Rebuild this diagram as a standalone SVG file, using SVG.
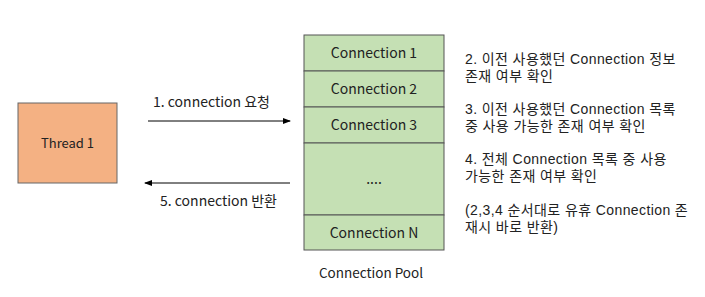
<svg xmlns="http://www.w3.org/2000/svg" width="705" height="297" viewBox="0 0 705 297">
<style>
text{font-family:"Noto Sans CJK KR","Noto Sans",sans-serif;font-size:14px;fill:#222}
.c{text-anchor:middle}
.note{font-family:"Liberation Sans","Noto Sans CJK KR",sans-serif;font-size:14px;letter-spacing:0.4px}
.row{fill:#C5E0B4;stroke:#555;stroke-width:1}
.ln{stroke:#000;stroke-width:1;fill:none}
</style>
<defs>
<marker id="ah" markerWidth="8" markerHeight="6" refX="7" refY="3" orient="auto" markerUnits="userSpaceOnUse">
<path d="M0,0 L8,3 L0,6 z" fill="#000"/>
</marker>
</defs>
<rect width="705" height="297" fill="#fff"/>
<g id="thread1">
<rect x="18" y="103" width="99" height="80" fill="#F4B183" stroke="#666" stroke-width="1"/>
<text class="c" x="67.5" y="148" style="font-size:13px">Thread 1</text>
</g>
<g id="pool">
<rect class="row" x="304" y="35" width="140" height="36"/>
<text class="c" x="374" y="58">Connection 1</text>
<rect class="row" x="304" y="71" width="140" height="36"/>
<text class="c" x="374" y="94">Connection 2</text>
<rect class="row" x="304" y="107" width="140" height="36"/>
<text class="c" x="374" y="130">Connection 3</text>
<rect class="row" x="304" y="143" width="140" height="72"/>
<text class="c" x="374" y="184">....</text>
<rect class="row" x="304" y="215" width="140" height="35"/>
<text class="c" x="374" y="238">Connection N</text>
<text class="c" x="371" y="278" style="font-size:13.5px">Connection Pool</text>
</g>
<g id="connectors">
<line class="ln" x1="148" y1="121" x2="290" y2="121" marker-end="url(#ah)"/>
<text x="153" y="107">1. connection 요청</text>
<line class="ln" x1="290" y1="183" x2="145" y2="183" marker-end="url(#ah)"/>
<text x="160" y="206">5. connection 반환</text>
</g>
<g id="notes">
<text class="note"><tspan x="465" y="64">2. 이전 사용했던 Connection 정보</tspan><tspan x="465" y="80.5">존재 여부 확인</tspan></text>
<text class="note"><tspan x="465" y="114">3. 이전 사용했던 Connection 목록</tspan><tspan x="465" y="130.5">중 사용 가능한 존재 여부 확인</tspan></text>
<text class="note"><tspan x="465" y="164">4. 전체 Connection 목록 중 사용</tspan><tspan x="465" y="180.5">가능한 존재 여부 확인</tspan></text>
<text class="note"><tspan x="465" y="215">(2,3,4 순서대로 유휴 Connection 존</tspan><tspan x="465" y="231.5">재시 바로 반환)</tspan></text>
</g>
</svg>
